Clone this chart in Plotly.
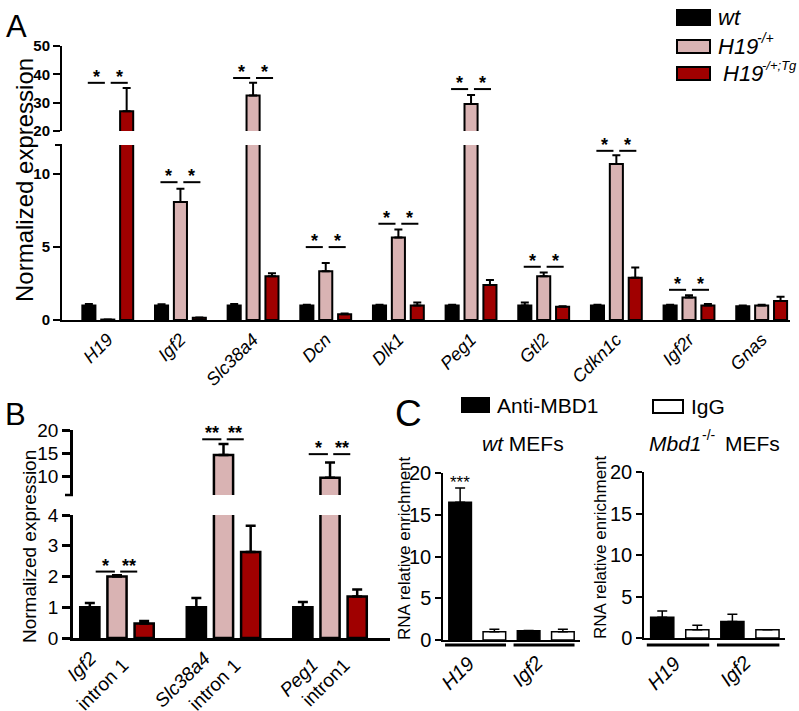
import plotly.graph_objects as go

W, H = 799, 711


def px(x):
    return x / W


def py(y):
    return 1 - y / H


FONT = "Arial, 'Liberation Sans', Helvetica, sans-serif"
BLACK = "#000000"
PINK = "#d9b3b3"
RED = "#a00000"

# ---------------- Panel A data ----------------
genes_A = ["H19", "Igf2", "Slc38a4", "Dcn", "Dlk1", "Peg1", "Gtl2", "Cdkn1c", "Igf2r", "Gnas"]
wt_A = [1.0, 1.0, 1.0, 1.0, 1.0, 1.0, 1.0, 1.0, 1.0, 0.95]
wt_A_err = [0.1, 0.08, 0.1, 0.05, 0.05, 0.05, 0.2, 0.05, 0.05, 0.05]
het_A = [0.03, 8.1, 32.5, 3.35, 5.65, 29.5, 3.0, 10.7, 1.55, 1.0]
het_A_err = [0.0, 0.9, 4.5, 0.55, 0.55, 3.2, 0.25, 0.6, 0.15, 0.05]
tg_A = [27.0, 0.15, 3.0, 0.4, 1.0, 2.4, 0.9, 2.9, 1.0, 1.3]
tg_A_err = [8.2, 0.02, 0.2, 0.05, 0.2, 0.35, 0.05, 0.7, 0.1, 0.3]
sig_A_y = [37.0, 9.45, 38.7, 5.0, 6.6, 34.8, 3.65, 11.6, 2.07, None]
yticks_A_low = [0, 5, 10]
yticks_A_high = [20, 30, 40, 50]

# ---------------- Panel B data ----------------
labels_B = ["Igf2", "intron 1", "Slc38a4", "intron 1", "Peg1", "intron1"]
wt_B = [1.0, 1.0, 1.0]
wt_B_err = [0.14, 0.3, 0.17]
het_B = [2.0, 14.6, 9.7]
het_B_err = [0.04, 2.4, 3.3]
tg_B = [0.47, 2.8, 1.35]
tg_B_err = [0.08, 0.85, 0.23]
sig_B_y = [2.16, 18.0, 14.8]
sig_B_text = [("*", "**"), ("**", "**"), ("*", "**")]
yticks_B_low = [0, 1, 2, 3, 4]
yticks_B_high = [10, 15, 20]

# ---------------- Panel C data ----------------
groups_C = ["H19", "Igf2"]
anti_wt = [16.5, 1.1]
anti_wt_err = [1.7, 0.05]
igg_wt = [1.0, 1.0]
igg_wt_err = [0.3, 0.3]
anti_ko = [2.5, 2.0]
anti_ko_err = [0.75, 0.85]
igg_ko = [1.0, 1.0]
igg_ko_err = [0.55, 0.0]
yticks_C = [0, 5, 10, 15, 20]

fig = go.Figure()


def add_bars(xa, ya, vals, errs, color, center, width, lw, capw=4):
    n = len(vals)
    fig.add_trace(go.Bar(
        x=list(range(n)), y=vals, xaxis=xa, yaxis=ya,
        width=width, offset=center - width / 2,
        marker=dict(color=color, line=dict(color=BLACK, width=lw)),
        error_y=dict(type="data", array=errs, arrayminus=[0] * n, symmetric=False,
                     color=BLACK, thickness=lw, width=capw),
        showlegend=False, hoverinfo="skip"))


# Panel A (two axis segments)
for ya in ["y", "y2"]:
    add_bars("x", ya, wt_A, wt_A_err, BLACK, -0.26, 0.18, 2)
    add_bars("x", ya, het_A, het_A_err, PINK, 0.0, 0.18, 2)
    add_bars("x", ya, tg_A, tg_A_err, RED, 0.26, 0.18, 2)

# Panel B
for ya in ["y3", "y4"]:
    add_bars("x2", ya, wt_B, wt_B_err, BLACK, -0.255, 0.18, 2.5, 5)
    add_bars("x2", ya, het_B, het_B_err, PINK, 0.0, 0.18, 2.5, 5)
    add_bars("x2", ya, tg_B, tg_B_err, RED, 0.255, 0.18, 2.5, 5)

# Panel C
add_bars("x3", "y5", anti_wt, anti_wt_err, BLACK, -0.25, 0.33, 1.5, 5)
add_bars("x3", "y5", igg_wt, igg_wt_err, "white", 0.25, 0.33, 1.5, 5)
add_bars("x4", "y6", anti_ko, anti_ko_err, BLACK, -0.25, 0.33, 1.5, 5)
add_bars("x4", "y6", igg_ko, igg_ko_err, "white", 0.25, 0.33, 1.5, 5)

shapes = []
annotations = []


def text_at(x, y, txt, size, xanchor="left", yanchor="middle", angle=0):
    annotations.append(dict(xref="paper", yref="paper", x=px(x), y=py(y), text=txt, showarrow=False,
                            xanchor=xanchor, yanchor=yanchor, textangle=angle,
                            font=dict(size=size, color=BLACK, family=FONT)))


def rot_label(xref, x, ypix, text, size):
    annotations.append(dict(xref=xref, yref="paper", x=x, y=py(ypix), text=text, showarrow=False,
                            textangle=-45, xanchor="right", yanchor="top",
                            font=dict(size=size, color=BLACK, family=FONT)))


# rotated category labels (B and C); A uses the axis tick labels
label_shift_B = [(-0.13, 645), (0.17, 652), (-0.06, 645), (0.225, 652), (-0.05, 652), (0.25, 652)]
for k, t in enumerate(labels_B):
    dx, yp = label_shift_B[k]
    rot_label("x2", k // 2 + dx, yp, ("<i>%s</i>" % t) if k % 2 == 0 else t, 19)
for xa, dx in [("x3", 0.06), ("x4", 0.11)]:
    for g, name in enumerate(groups_C):
        rot_label(xa, g + dx, 649, "<i>%s</i>" % name, 20)

# axis segment end caps
shapes.append(dict(type="line", xref="paper", yref="paper", x0=px(55), x1=px(62), y0=py(145), y1=py(145),
                   line=dict(color=BLACK, width=2)))
shapes.append(dict(type="line", xref="paper", yref="paper", x0=px(65), x1=px(73), y0=py(495), y1=py(495),
                   line=dict(color=BLACK, width=2.5)))

# significance markers panel A
for i, yv in enumerate(sig_A_y):
    if yv is None:
        continue
    yref = "y2" if yv > 12 else "y"
    for (x0, x1) in [(-0.275, -0.04), (0.04, 0.275)]:
        shapes.append(dict(type="line", xref="x", yref=yref, x0=i + x0, x1=i + x1, y0=yv, y1=yv,
                           line=dict(color=BLACK, width=2)))
        annotations.append(dict(xref="x", yref=yref, x=i + (x0 + x1) / 2, y=yv, text="<b>*</b>",
                                showarrow=False, yanchor="bottom", yshift=-6,
                                font=dict(size=18, color=BLACK, family=FONT)))

# significance markers panel B
for i, yv in enumerate(sig_B_y):
    yref = "y4" if yv > 4 else "y3"
    for (x0, x1), t in zip([(-0.2, -0.02), (0.03, 0.19)], sig_B_text[i]):
        shapes.append(dict(type="line", xref="x2", yref=yref, x0=i + x0, x1=i + x1, y0=yv, y1=yv,
                           line=dict(color=BLACK, width=2)))
        annotations.append(dict(xref="x2", yref=yref, x=i + (x0 + x1) / 2, y=yv, text="<b>" + t + "</b>",
                                showarrow=False, yanchor="bottom", yshift=-6,
                                font=dict(size=18, color=BLACK, family=FONT)))

# panel C: *** and group underlines
annotations.append(dict(xref="x3", yref="y5", x=-0.25, y=anti_wt[0] + anti_wt_err[0], text="***",
                        showarrow=False, yanchor="bottom", yshift=-6,
                        font=dict(size=17, color=BLACK, family=FONT)))
for xa in ["x3", "x4"]:
    for g in range(len(groups_C)):
        shapes.append(dict(type="line", xref=xa, yref="paper", x0=g - 0.47, x1=g + 0.42,
                           y0=py(645), y1=py(645), line=dict(color=BLACK, width=3)))

# panel letters
text_at(4, 26, "A", 31)
text_at(3, 414, "B", 31)
text_at(393, 413, "C", 37)

# y-axis titles
text_at(24, 180, "Normalized expression", 24, "center", "middle", -90)
text_at(29, 547, "Normalized expression", 19, "center", "middle", -90)
text_at(404, 548, "RNA relative enrichment", 17, "center", "middle", -90)
text_at(600, 547, "RNA relative enrichment", 17, "center", "middle", -90)

# C subplot titles (superscripts as separate small texts)
text_at(523, 443, "<i>wt</i> MEFs", 21, "center", "middle")
text_at(647, 443, "<i>Mbd1</i>", 21)
text_at(700, 435, "-/-", 14)
text_at(723, 443, "MEFs", 21)

# Legend panel A
legA = [(PINK, 40, 53), (RED, 67, 80), (BLACK, 10, 25)]
for col, y0, y1 in legA:
    shapes.append(dict(type="rect", xref="paper", yref="paper", x0=px(677), x1=px(710), y0=py(y1), y1=py(y0),
                       fillcolor=col, line=dict(color=BLACK, width=2)))
text_at(716, 17.5, "<i>wt</i>", 22)
text_at(716, 46.5, "<i>H19</i>", 22)
text_at(755, 38.5, "<i>-/+</i>", 14)
text_at(721, 73.5, "<i>H19</i>", 22)
text_at(760, 65.5, "<i>-/+;Tg</i>", 13)

# Legend panel C
legC = [("Anti-MBD1", BLACK, 462, 489, 398, 412, 495), ("IgG", "white", 653, 683, 400, 413, 689)]
for txt, col, x0, x1, y0, y1, tx in legC:
    shapes.append(dict(type="rect", xref="paper", yref="paper", x0=px(x0), x1=px(x1), y0=py(y1), y1=py(y0),
                       fillcolor=col, line=dict(color=BLACK, width=2)))
    text_at(tx, (y0 + y1) / 2, txt, 21)

axis_common = dict(showgrid=False, zeroline=False, showline=True, linecolor=BLACK)
xaxis_common = dict(axis_common, ticks="", showticklabels=False)

layout = dict(
    width=W, height=H, margin=dict(l=0, r=0, t=0, b=0),
    paper_bgcolor="white", plot_bgcolor="white", template="none",
    barmode="overlay", font=dict(family=FONT, color=BLACK),
    shapes=shapes, annotations=annotations,
    # Panel A
    xaxis=dict(axis_common, domain=[px(62), px(790)], range=[-0.63, 9.39], anchor="y", linewidth=2,
               ticks="", tickmode="array", tickvals=list(range(len(genes_A))),
               ticktext=["<i>%s</i>" % g for g in genes_A], tickangle=-45,
               tickfont=dict(size=18, family=FONT)),
    yaxis=dict(axis_common, domain=[py(320), py(145)], range=[0, 12], anchor="x", linewidth=2,
               ticks="outside", ticklen=7, tickwidth=2, tickcolor=BLACK,
               tickmode="array", tickvals=yticks_A_low,
               ticktext=["<b>%d</b>" % v for v in yticks_A_low], tickfont=dict(size=15, family=FONT)),
    yaxis2=dict(axis_common, domain=[py(131), py(46)], range=[20, 50], anchor="x", linewidth=2,
                ticks="outside", ticklen=7, tickwidth=2, tickcolor=BLACK,
                tickmode="array", tickvals=yticks_A_high,
                ticktext=["<b>%d</b>" % v for v in yticks_A_high], tickfont=dict(size=15, family=FONT)),
    # Panel B
    xaxis2=dict(xaxis_common, domain=[px(73), px(390)], range=[-0.413, 2.563], anchor="y3", linewidth=2.5),
    yaxis3=dict(axis_common, domain=[py(638), py(515)], range=[0, 4], anchor="x2", linewidth=2.5,
                ticks="outside", ticklen=8, tickwidth=2.5, tickcolor=BLACK,
                tickmode="array", tickvals=yticks_B_low, tickfont=dict(size=19, family=FONT)),
    yaxis4=dict(axis_common, domain=[py(495), py(430)], range=[6, 20], anchor="x2", linewidth=2.5,
                ticks="outside", ticklen=8, tickwidth=2.5, tickcolor=BLACK,
                tickmode="array", tickvals=yticks_B_high, tickfont=dict(size=19, family=FONT)),
    # Panel C
    xaxis3=dict(xaxis_common, domain=[px(443), px(580)], range=[-0.5, 1.5], anchor="y5", linewidth=1.5),
    yaxis5=dict(axis_common, domain=[py(640), py(473)], range=[0, 20], anchor="x3", linewidth=1.5,
                ticks="outside", ticklen=6, tickwidth=1.5, tickcolor=BLACK,
                tickmode="array", tickvals=yticks_C, tickfont=dict(size=20, family=FONT)),
    xaxis4=dict(xaxis_common, domain=[px(644), px(785)], range=[-0.51, 1.5], anchor="y6", linewidth=1.5),
    yaxis6=dict(axis_common, domain=[py(638), py(472)], range=[0, 20], anchor="x4", linewidth=1.5,
                ticks="outside", ticklen=6, tickwidth=1.5, tickcolor=BLACK,
                tickmode="array", tickvals=yticks_C, tickfont=dict(size=20, family=FONT)),
)
fig.update_layout(**layout)

fig.write_html("out.html", config={"displayModeBar": False},
               post_script="document.body.style.margin='0';document.body.style.overflow='hidden';")
